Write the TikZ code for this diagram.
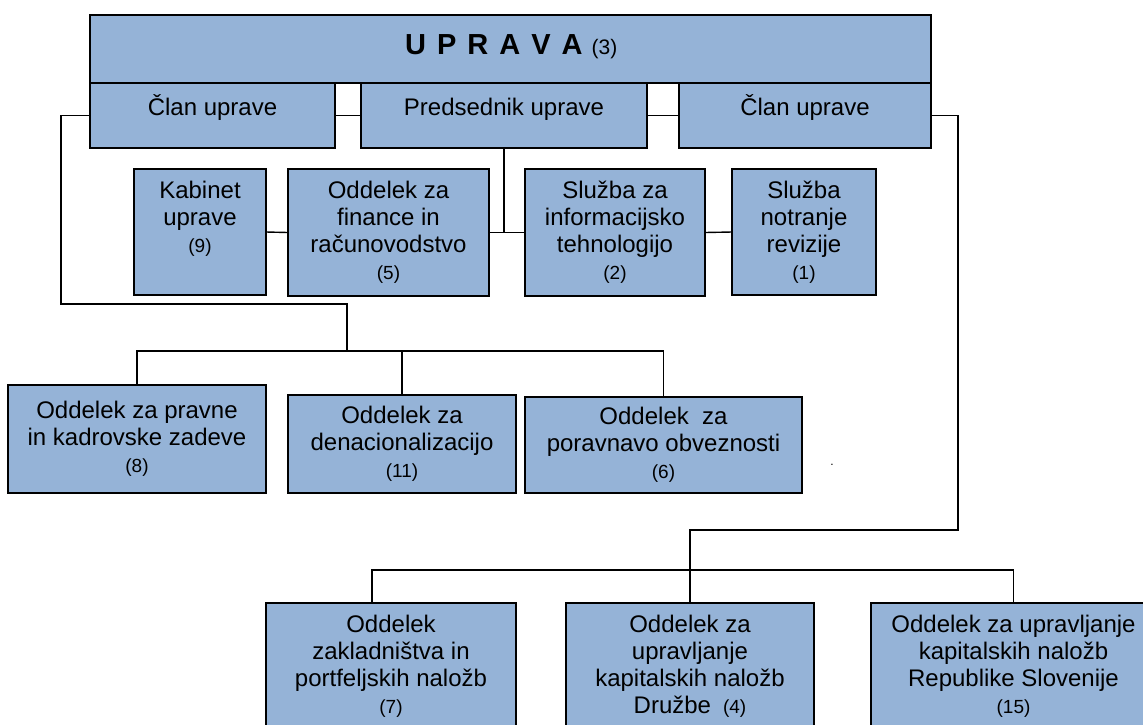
\documentclass[tikz,border=0pt]{standalone}
\usepackage{fontspec}
\setmainfont{Liberation Sans}
\definecolor{boxblue}{RGB}{149,179,215}
\newcommand{\nsz}{\fontsize{19}{27}\selectfont}
\begin{document}
\begin{tikzpicture}[x=1pt,y=-1pt,
  box/.style={draw=black, fill=boxblue, line width=1.6pt, anchor=north west,
    inner sep=0pt, outer sep=0pt, align=center, font=\fontsize{24}{27}\selectfont},
  conn/.style={draw=black, line width=1.4pt},
  lbl/.style={font=\fontsize{24}{27}\selectfont, anchor=base, inner sep=0pt}]
\useasboundingbox (0,0) rectangle (1143,724);
\clip (0,0) rectangle (1143,724);

% top block
\node[box, minimum width=841pt, minimum height=68pt] (uprava) at (90,15) {};
\node[box, minimum width=245pt, minimum height=65pt] (lclan) at (90,83) {};
\node[box, minimum width=286pt, minimum height=65pt] (pred) at (361,83) {};
\node[box, minimum width=252pt, minimum height=65pt] (rclan) at (679,83) {};
\node[anchor=base west, inner sep=0pt] (upravat) at (405,54)
  {{\fontsize{29}{30}\selectfont\bfseries U\hspace{11pt}P\hspace{11pt}R\hspace{11pt}A\hspace{11pt}V\hspace{11pt}A}\hspace{9pt}{\fontsize{21}{24}\selectfont(3)}};
\node[lbl] (lclant) at (lclan.center) {Član uprave};
\node[lbl] (predt) at (pred.center) {Predsednik uprave};
\node[lbl] (rclant) at (rclan.center) {Član uprave};

% second row
\node[box, minimum width=132pt, minimum height=126pt] (kab) at (134,169)
  {Kabinet\\uprave\\{\nsz(9)}\\{\nsz\phantom{(9)}}};
\node[box, minimum width=201pt, minimum height=127pt] (fin) at (288,169)
  {Oddelek za\\finance in\\računovodstvo\\{\nsz(5)}};
\node[box, minimum width=180pt, minimum height=127pt] (it) at (525,169)
  {Služba za\\informacijsko\\tehnologijo\\{\nsz(2)}};
\node[box, minimum width=144pt, minimum height=126pt] (rev) at (732,169)
  {Služba\\notranje\\revizije\\{\nsz(1)}};

% third row
\node[box, minimum width=258pt, minimum height=108pt] (prav) at (8,385)
  {Oddelek za pravne\\in kadrovske zadeve\\{\nsz(8)}};
\node[box, minimum width=228pt, minimum height=98pt] (den) at (288,395)
  {Oddelek za\\denacionalizacijo\\{\nsz(11)}};
\node[box, minimum width=277pt, minimum height=96pt] (por) at (525,397)
  {Oddelek\ \ za\\poravnavo obveznosti\\{\nsz(6)}};
\node[inner sep=0pt, font=\fontsize{12}{12}\selectfont] (dot) at (832,465) {.};

% bottom row
\node[box, minimum width=250pt, minimum height=127pt] (zak) at (266,603)
  {Oddelek\\zakladništva in\\portfeljskih naložb\\{\nsz(7)}};
\node[box, minimum width=248pt, minimum height=127pt] (druz) at (566,603)
  {Oddelek za\\upravljanje\\kapitalskih naložb\\Družbe\hspace{12pt}{\nsz(4)}};
\node[box, minimum width=285pt, minimum height=127pt] (rs) at (871,603)
  {Oddelek za upravljanje\\kapitalskih naložb\\Republike Slovenije\\{\nsz(15)}};

% connector points
\coordinate (jL) at (347,304);
\coordinate (busL) at (347,351);
\coordinate (jR) at (690,530);
\coordinate (busR) at (690,570);

% connectors top
\draw[conn] (lclan.east) -- (pred.west);
\draw[conn] (pred.east) -- (rclan.west);
\draw[conn] (pred.south) -- (pred.south |- fin.east);
\draw[conn] (fin.east) -- (it.west);
\draw[conn] (kab.east) -- (fin.west);
\draw[conn] (it.east) -- (rev.west);

% left branch
\draw[conn] (lclan.west) -- ++(-29,0) |- (jL) -- (busL);
\draw[conn] (prav.north) |- (por.north |- busL) -- (por.north);
\draw[conn] (den.north) -- (den.north |- busL);

% right branch
\draw[conn] (rclan.east) -- ++(27,0) |- (jR) -- (busR);
\draw[conn] ([xshift=-19pt]zak.north) |- (rs.north |- busR) -- (rs.north);
\draw[conn] (druz.north) -- (druz.north |- busR);
\end{tikzpicture}
\end{document}
